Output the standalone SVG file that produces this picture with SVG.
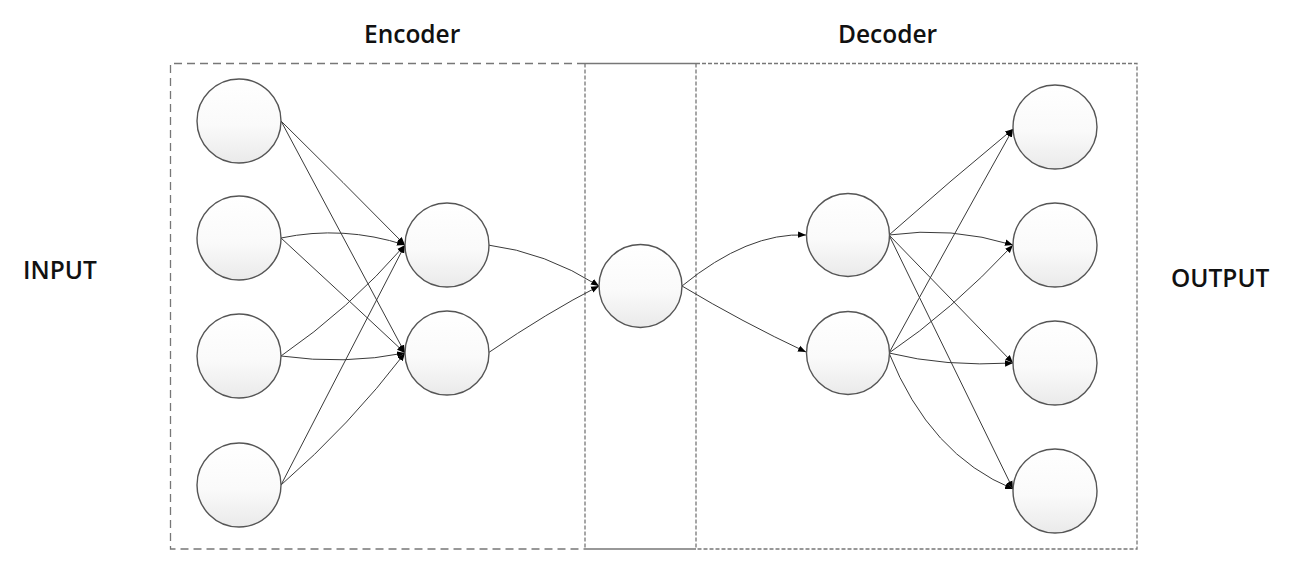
<svg xmlns="http://www.w3.org/2000/svg" width="1291" height="568" viewBox="0 0 1291 568">
<style>
.lbl{font-family:"Open Sans","Liberation Sans",sans-serif;font-size:24.5px;font-weight:600;fill:#111;}
.node{fill:url(#g);stroke:#555;stroke-width:1.4;}
.e{fill:none;stroke:#3a3a3a;stroke-width:1;marker-end:url(#ah);}
.box1{fill:none;stroke:#777;stroke-width:1.3;stroke-dasharray:8 5;}
.box2{fill:none;stroke:#777;stroke-width:1.3;stroke-dasharray:4 2;}
.solid{fill:none;stroke:#777;stroke-width:1.3;}
</style>
<defs>
<linearGradient id="g" x1="0" y1="0" x2="0" y2="1">
<stop offset="0" stop-color="#ffffff"/>
<stop offset="0.55" stop-color="#fafafa"/>
<stop offset="1" stop-color="#eaeaea"/>
</linearGradient>
<marker id="ah" viewBox="0 0 10 10" refX="10" refY="5" markerWidth="8" markerHeight="8" markerUnits="userSpaceOnUse" orient="auto">
<path d="M0,1 L10,5 L0,9 z" fill="#000"/>
</marker>
</defs>
<rect width="1291" height="568" fill="#fff"/>
<g id="frames">
<path class="box1" d="M585,63.5 H170.5 V549 H585"/>
<path class="box2" d="M696,63.5 H1137 V549 H696"/>
<path class="solid" d="M585,63.5 H696 M585,549 H696"/>
<path class="box2" d="M585,63.5 V549 M696,63.5 V549"/>
</g>
<g id="labels">
<text class="lbl" x="364" y="43">Encoder</text>
<text class="lbl" x="838" y="43">Decoder</text>
<text class="lbl" x="23" y="279">INPUT</text>
<text class="lbl" x="1171" y="287">OUTPUT</text>
</g>
<g id="connectors">
<path class="e" d="M281,121 Q343,182 405,245"/>
<path class="e" d="M281,121 Q343,237 405,353"/>
<path class="e" d="M281,238 Q343,225 405,245"/>
<path class="e" d="M281,238 Q343,295 405,353"/>
<path class="e" d="M281,356 Q348,310 405,245"/>
<path class="e" d="M281,356 Q345,365 405,353"/>
<path class="e" d="M281,485 Q343,365 405,245"/>
<path class="e" d="M281,485 Q350,425 405,353"/>
<path class="e" d="M488,245 Q545,252 599,286"/>
<path class="e" d="M488,353 Q548,312 599,286"/>
<path class="e" d="M682,286 Q748,232 806,235"/>
<path class="e" d="M682,286 Q742,322 806,352"/>
<path class="e" d="M889,235 Q951,180 1013,129"/>
<path class="e" d="M889,235 Q951,226 1013,245"/>
<path class="e" d="M889,235 Q951,299 1013,363"/>
<path class="e" d="M889,235 Q951,362 1013,489"/>
<path class="e" d="M889,353 Q948,245 1013,129"/>
<path class="e" d="M889,353 Q950,312 1013,245"/>
<path class="e" d="M889,353 Q945,367 1013,363"/>
<path class="e" d="M889,353 Q930,455 1013,489"/>
</g>
<g id="in1"><circle class="node" cx="239" cy="121" r="42"/></g>
<g id="in2"><circle class="node" cx="239" cy="238" r="42"/></g>
<g id="in3"><circle class="node" cx="239" cy="356" r="42"/></g>
<g id="in4"><circle class="node" cx="239" cy="485" r="42"/></g>
<g id="enc1"><circle class="node" cx="447" cy="245" r="42"/></g>
<g id="enc2"><circle class="node" cx="447" cy="353" r="42"/></g>
<g id="code"><circle class="node" cx="640.5" cy="286" r="41.5"/></g>
<g id="dec1"><circle class="node" cx="848" cy="235" r="41.5"/></g>
<g id="dec2"><circle class="node" cx="848" cy="353" r="41.5"/></g>
<g id="out1"><circle class="node" cx="1055" cy="127" r="42"/></g>
<g id="out2"><circle class="node" cx="1055" cy="245" r="42"/></g>
<g id="out3"><circle class="node" cx="1055" cy="363" r="42"/></g>
<g id="out4"><circle class="node" cx="1055" cy="491" r="42"/></g>
</svg>
